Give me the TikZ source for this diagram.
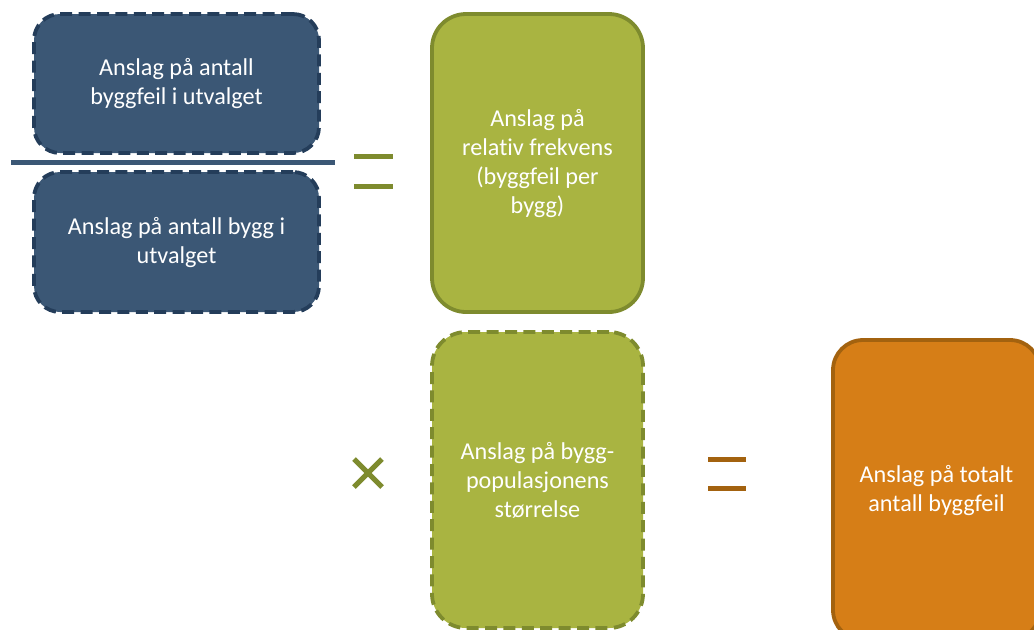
\documentclass[tikz,border=0pt]{standalone}
\usepackage{fontspec}
\setmainfont[Ligatures=NoCommon]{Carlito}
\usepackage{tikz}
\usetikzlibrary{positioning, calc}
\definecolor{navyfill}{HTML}{3B5775}
\definecolor{navyline}{HTML}{243D5A}
\definecolor{olivefill}{HTML}{A9B441}
\definecolor{oliveline}{HTML}{7E8B2E}
\definecolor{orangefill}{HTML}{D67E17}
\definecolor{orangeline}{HTML}{A3620F}
\tikzstyle{card}=[rectangle, line width=1.9pt, text=white, align=center, inner sep=0pt, font=\fontsize{12.1}{14.5}\selectfont]
\tikzstyle{dashcard}=[card, dash pattern=on 6pt off 3.2pt]
\tikzstyle{mathbar}=[line width=2.5pt]

\begin{document}
\begin{tikzpicture}[x=0.5pt, y=-0.5pt]
\useasboundingbox (0,0) rectangle (1034,629);
% divisor part
\draw (176.5,83.5) node[dashcard, rounded corners=13pt, fill=navyfill, draw=navyline, minimum width=142.5pt, minimum height=69.5pt](count){Anslag på antall\\byggfeil i utvalget};
\draw (176.5,242) node[dashcard, rounded corners=13pt, fill=navyfill, draw=navyline, minimum width=142.5pt, minimum height=70pt](sample){Anslag på antall bygg i\\utvalget};
\coordinate (barL) at (11,162);
\coordinate (barR) at (335,162);
\draw[mathbar, navyfill] (barL)--(barR);
% relative frequency
\draw (537.5,163) node[card, rounded corners=17pt, fill=olivefill, draw=oliveline, minimum width=105.5pt, minimum height=149pt](freq){Anslag på\\relativ frekvens\\(byggfeil per\\bygg)};
\draw[mathbar, oliveline] (354,156)--(393,156) (354,186)--(393,186);
% population size
\draw[mathbar, oliveline] (354,459)--(382,487) (354,487)--(382,459);
\draw (537.5,480) node[dashcard, rounded corners=17pt, fill=olivefill, draw=oliveline, minimum width=105.5pt, minimum height=148pt](pop){Anslag på bygg-\\populasjonens\\størrelse};
\draw[mathbar, orangeline] (708,459)--(746,459) (708,488)--(746,488);
% total
\draw (936.5,490) node[card, rounded corners=15pt, fill=orangefill, draw=orangeline, minimum width=103.5pt, minimum height=150pt](total){Anslag på totalt\\antall byggfeil};
\end{tikzpicture}
\end{document}
